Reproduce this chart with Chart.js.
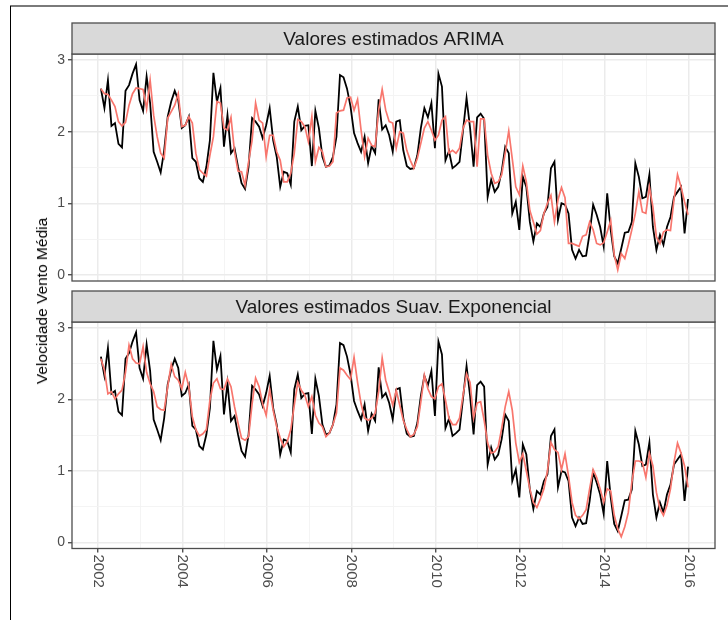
<!DOCTYPE html>
<html lang="pt">
<head>
  <meta charset="UTF-8">
  <title>Valores estimados</title>
  <script src="https://cdn.jsdelivr.net/npm/chart.js"></script>
  <style>
    body { margin: 0; background: #fff; width: 728px; height: 620px; overflow: hidden; position: relative;
           font-family: "Liberation Sans", Arial, sans-serif; }
    .frame-left { position: absolute; left: 10px; top: 6px; width: 1px; height: 614px; background: #000; }
    .frame-top { position: absolute; left: 10px; top: 5px; width: 718px; height: 2px; background: #7a7a7a; }
    canvas { position: absolute; left: 0; top: 0; }
    #ytitle { position: absolute; left: 42px; top: 301px; transform: translate(-50%, -50%) rotate(-90deg);
              white-space: nowrap; font-size: 15.5px; color: #000; }
  </style>
</head>
<body>
  <div class="frame-top"></div>
  <div class="frame-left"></div>
  <canvas id="arima" width="728" height="620"></canvas>
  <canvas id="suav" width="728" height="620"></canvas>
  <div id="ytitle">Velocidade Vento Média</div>

  <script>
    // serie mensal jan/2002 - dez/2015
    const observado = [
      2.60, 2.33, 2.72, 2.08, 2.12, 1.83, 1.78, 2.57, 2.65, 2.81, 2.94, 2.44,
      2.29, 2.77, 2.40, 1.72, 1.58, 1.43, 1.74, 2.21, 2.42, 2.57, 2.44, 2.05,
      2.09, 2.21, 1.63, 1.58, 1.35, 1.30, 1.51, 1.88, 2.82, 2.42, 2.61, 1.79,
      2.23, 1.70, 1.77, 1.51, 1.28, 1.20, 1.51, 2.19, 2.14, 2.07, 1.91, 2.09,
      2.33, 1.88, 1.65, 1.23, 1.44, 1.42, 1.26, 2.14, 2.35, 2.02, 2.08, 2.09,
      1.52, 2.29, 2.05, 1.65, 1.51, 1.53, 1.65, 1.93, 2.79, 2.76, 2.60, 2.35,
      1.98, 1.84, 1.72, 1.93, 1.56, 1.80, 1.70, 2.45, 2.03, 2.09, 1.95, 1.72,
      2.14, 2.16, 1.74, 1.52, 1.48, 1.49, 1.67, 2.05, 2.33, 2.20, 2.40, 1.77,
      2.81, 2.63, 1.60, 1.73, 1.49, 1.53, 1.58, 2.02, 2.47, 2.05, 1.51, 2.20,
      2.25, 2.18, 1.09, 1.33, 1.16, 1.23, 1.45, 1.79, 1.70, 0.86, 1.02, 0.63,
      1.37, 1.23, 0.74, 0.47, 0.72, 0.67, 0.86, 0.95, 1.49, 1.58, 0.77, 1.00,
      0.98, 0.86, 0.35, 0.23, 0.35, 0.26, 0.27, 0.58, 0.98, 0.84, 0.67, 0.40,
      1.14, 0.63, 0.26, 0.16, 0.37, 0.59, 0.60, 0.74, 1.56, 1.37, 1.07, 1.09,
      1.40, 0.67, 0.35, 0.56, 0.42, 0.67, 0.81, 1.09, 1.16, 1.23, 0.58, 1.06
    ];

    const estimadoArima = [
      2.60, 2.53, 2.52, 2.44, 2.35, 2.14, 2.08, 2.13, 2.37, 2.53, 2.61, 2.60,
      2.59, 2.32, 2.72, 2.23, 1.93, 1.70, 1.63, 2.19, 2.28, 2.37, 2.53, 2.07,
      2.09, 2.21, 2.12, 1.70, 1.47, 1.42, 1.38, 1.67, 1.93, 2.42, 2.40, 2.05,
      2.02, 2.20, 1.72, 1.45, 1.44, 1.25, 1.58, 1.88, 2.40, 2.16, 2.12, 1.65,
      1.95, 1.95, 1.72, 1.60, 1.30, 1.30, 1.42, 1.70, 2.17, 2.14, 2.07, 1.86,
      2.21, 1.58, 1.78, 1.72, 1.51, 1.52, 1.58, 2.26, 2.29, 2.30, 2.47, 2.48,
      2.30, 2.45, 2.02, 1.65, 1.91, 1.81, 1.79, 2.30, 2.59, 2.30, 2.14, 2.12,
      1.77, 2.00, 1.98, 1.74, 1.60, 1.49, 1.63, 1.84, 2.05, 2.14, 2.02, 1.88,
      1.95, 2.16, 2.21, 1.70, 1.74, 1.70, 1.77, 2.05, 2.16, 2.14, 2.14, 1.51,
      2.18, 2.18, 1.67, 1.42, 1.28, 1.30, 1.40, 1.70, 2.01, 1.62, 1.23, 1.12,
      1.52, 1.30, 0.90, 0.74, 0.57, 0.62, 0.86, 1.00, 1.11, 0.74, 1.05, 1.22,
      1.08, 0.44, 0.44, 0.42, 0.40, 0.54, 0.56, 0.74, 0.63, 0.44, 0.42, 0.45,
      0.60, 0.76, 0.28, 0.07, 0.30, 0.23, 0.42, 0.63, 0.86, 1.16, 0.88, 0.86,
      1.23, 0.95, 0.53, 0.44, 0.60, 0.63, 0.62, 1.05, 1.40, 1.23, 1.02, 0.84
    ];

    const estimadoSuav = [
      2.57, 2.41, 2.08, 2.11, 2.01, 2.08, 2.13, 2.38, 2.76, 2.57, 2.51, 2.50,
      2.74, 2.38, 2.22, 2.11, 1.90, 1.86, 1.85, 2.18, 2.49, 2.32, 2.27, 2.15,
      2.38, 2.18, 1.76, 1.58, 1.49, 1.52, 1.58, 1.99, 2.23, 2.29, 2.15, 2.14,
      2.29, 2.18, 1.90, 1.67, 1.46, 1.43, 1.48, 1.94, 2.30, 2.18, 1.94, 1.78,
      2.14, 1.85, 1.62, 1.46, 1.34, 1.41, 1.58, 1.92, 2.24, 2.13, 2.06, 1.90,
      2.04, 1.78, 1.67, 1.62, 1.48, 1.53, 1.65, 1.81, 2.44, 2.41, 2.34, 2.28,
      2.59, 2.24, 1.94, 1.74, 1.71, 1.74, 1.81, 2.11, 2.58, 2.27, 2.11, 1.92,
      2.13, 1.92, 1.71, 1.58, 1.48, 1.51, 1.62, 1.97, 2.34, 2.15, 2.04, 2.01,
      2.18, 2.22, 1.99, 1.74, 1.65, 1.65, 1.74, 2.06, 2.36, 2.24, 1.74, 1.95,
      1.97, 1.71, 1.39, 1.25, 1.27, 1.34, 1.60, 1.90, 2.11, 1.85, 1.39, 1.12,
      1.24, 1.00, 0.75, 0.56, 0.49, 0.61, 0.75, 1.00, 1.40, 1.30, 1.26, 1.02,
      1.24, 0.93, 0.56, 0.38, 0.33, 0.38, 0.46, 0.75, 1.02, 0.91, 0.75, 0.56,
      0.75, 0.72, 0.38, 0.19, 0.08, 0.22, 0.42, 0.84, 1.14, 1.14, 1.12, 0.91,
      1.25, 1.07, 0.70, 0.47, 0.38, 0.52, 0.75, 1.12, 1.39, 1.25, 1.07, 0.77
    ];

    const anosEixo = [2002, 2004, 2006, 2008, 2010, 2012, 2014, 2016];
    const anosGrade = [2002, 2003, 2004, 2005, 2006, 2007, 2008, 2009, 2010, 2011, 2012, 2013, 2014, 2015, 2016];
    const ticksY = [0, 0.5, 1, 1.5, 2, 2.5, 3];

    // posicao de cada mes no eixo (ano decimal)
    const tempo = observado.map((_, i) => 2002.065 + i / 12);

    Chart.defaults.font.family = '"Liberation Sans", Arial, sans-serif';

    const painel = {
      id: 'painel',
      afterDraw(chart, args, opts) {
        const { ctx, chartArea: a } = chart;
        ctx.save();
        ctx.strokeStyle = '#4d4d4d';
        ctx.lineWidth = 1.3;
        ctx.strokeRect(a.left, a.top, a.right - a.left, a.bottom - a.top);
        // faixa do titulo
        const h = opts.faixa;
        ctx.fillStyle = '#d9d9d9';
        ctx.fillRect(a.left, a.top - h, a.right - a.left, h);
        ctx.strokeRect(a.left, a.top - h, a.right - a.left, h);
        ctx.fillStyle = '#1a1a1a';
        ctx.font = '19px "Liberation Sans", Arial, sans-serif';
        ctx.textAlign = 'center';
        ctx.textBaseline = 'middle';
        ctx.fillText(opts.titulo, (a.left + a.right) / 2, a.top - h / 2 + 1);
        if (opts.rotulosX) {
          const sx = chart.scales.x;
          ctx.fillStyle = '#4d4d4d';
          ctx.font = '15px "Liberation Sans", Arial, sans-serif';
          ctx.textAlign = 'left';
          anosEixo.forEach(ano => {
            ctx.save();
            ctx.translate(sx.getPixelForValue(ano), a.bottom + 6);
            ctx.rotate(Math.PI / 2);
            ctx.fillText(String(ano), 0, 0);
            ctx.restore();
          });
        }
        ctx.restore();
      }
    };

    function desenhar(id, titulo, estimado, topo, base, rotulosX) {
      new Chart(document.getElementById(id), {
        type: 'line',
        data: {
          datasets: [
            {
              label: 'Observado',
              data: tempo.map((t, i) => ({ x: t, y: observado[i] })),
              borderColor: '#000000',
              borderWidth: 1.8,
              pointRadius: 0,
              order: 2
            },
            {
              label: titulo,
              data: tempo.map((t, i) => ({ x: t, y: estimado[i] })),
              borderColor: '#F8766D',
              borderWidth: 1.7,
              pointRadius: 0,
              order: 1
            }
          ]
        },
        options: {
          responsive: false,
          animation: false,
          events: [],
          layout: { padding: { left: 0, top: topo, right: 13, bottom: 620 - base } },
          plugins: {
            legend: { display: false },
            tooltip: { enabled: false },
            painel: { titulo: titulo, faixa: 31, rotulosX: rotulosX }
          },
          scales: {
            x: {
              type: 'linear',
              min: 2001.38,
              max: 2016.62,
              afterBuildTicks: s => { s.ticks = anosGrade.map(v => ({ value: v })); },
              afterFit: s => { s.height = 0; },
              ticks: { display: false },
              border: { display: false },
              grid: {
                color: c => (c.tick && c.tick.value % 2 === 0) ? '#ebebeb' : '#f3f3f3',
                lineWidth: c => (c.tick && c.tick.value % 2 === 0) ? 1.5 : 0.9,
                drawTicks: rotulosX,
                tickLength: 4,
                tickColor: c => (c.tick && c.tick.value % 2 === 0) ? '#333333' : 'rgba(0,0,0,0)',
                tickWidth: 1.2
              }
            },
            y: {
              min: -0.084,
              max: 3.084,
              afterBuildTicks: s => { s.ticks = ticksY.map(v => ({ value: v })); },
              afterFit: s => { s.width = 72; },
              border: { display: false },
              ticks: {
                color: '#4d4d4d',
                font: { size: 14 },
                padding: 3,
                callback: v => Number.isInteger(v) ? String(v) : ''
              },
              grid: {
                color: c => (c.tick && Number.isInteger(c.tick.value)) ? '#ebebeb' : '#f3f3f3',
                lineWidth: c => (c.tick && Number.isInteger(c.tick.value)) ? 1.5 : 0.9,
                tickLength: 4,
                tickColor: c => (c.tick && Number.isInteger(c.tick.value)) ? '#333333' : 'rgba(0,0,0,0)',
                tickWidth: 1.2
              }
            }
          }
        },
        plugins: [painel]
      });
    }

    desenhar('arima', 'Valores estimados ARIMA', estimadoArima, 54, 281, false);
    desenhar('suav', 'Valores estimados Suav. Exponencial', estimadoSuav, 322, 548.5, true);
  </script>
</body>
</html>
